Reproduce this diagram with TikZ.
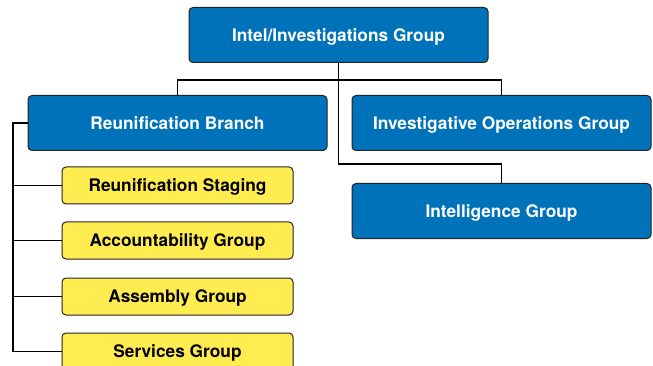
\documentclass[tikz,border=0pt]{standalone}
\usepackage{fontspec}
\setmainfont{TeX Gyre Heros}
\usepackage{tikz}

\definecolor{orgblue}{RGB}{0,114,185}
\definecolor{orgyellow}{RGB}{255,236,80}
\definecolor{orgline}{RGB}{35,35,35}

\tikzset{
  box/.style={draw=orgline, line width=1pt, rounded corners=4pt,
    font=\fontsize{17.3}{20}\selectfont\bfseries, inner sep=0pt,
    text height=12.4pt, text depth=0pt},
  bluebox/.style={box, fill=orgblue, text=white,
    minimum width=299pt, minimum height=55pt},
  yellowbox/.style={box, fill=orgyellow, text=black,
    minimum width=231pt, minimum height=37pt},
  link/.style={draw=black, line width=1.2pt}
}

\begin{document}
\begin{tikzpicture}[x=1pt, y=-1pt]

			\useasboundingbox (0,0) rectangle (653,366);

			% Cajas azules
			\node[bluebox] (intel) at (338.5,35) {Intel/Investigations Group};
			\node[bluebox] (reunif) at (177.5,123) {Reunification Branch};
			\node[bluebox] (invops) at (501.5,123) {Investigative Operations Group};
			\node[bluebox] (intelg) at (501.5,211) {Intelligence Group};

			% Cajas amarillas
			\node[yellowbox] (staging) at (177.5,185.5) {Reunification Staging};
			\node[yellowbox] (account) at (177.5,240.5) {Accountability Group};
			\node[yellowbox] (assembly) at (177.5,296.5) {Assembly Group};
			\node[yellowbox] (services) at (177.5,351.5) {Services Group};

			% Líneas de conexión
			\coordinate (split) at (338.5,80);
			\coordinate (bend) at (338.5,164);
			\coordinate (spine) at (13,123);
			\draw[link] (reunif.north) |- (split) -| (invops.north);
			\draw[link] (intel.south) -- (bend) -| (intelg.north);
			\draw[link] (reunif.west) -- (spine) |- (services.west);
			\foreach \n in {staging, account, assembly}
				\draw[link] (spine |- \n.west) -- (\n.west);

\end{tikzpicture}
\end{document}
